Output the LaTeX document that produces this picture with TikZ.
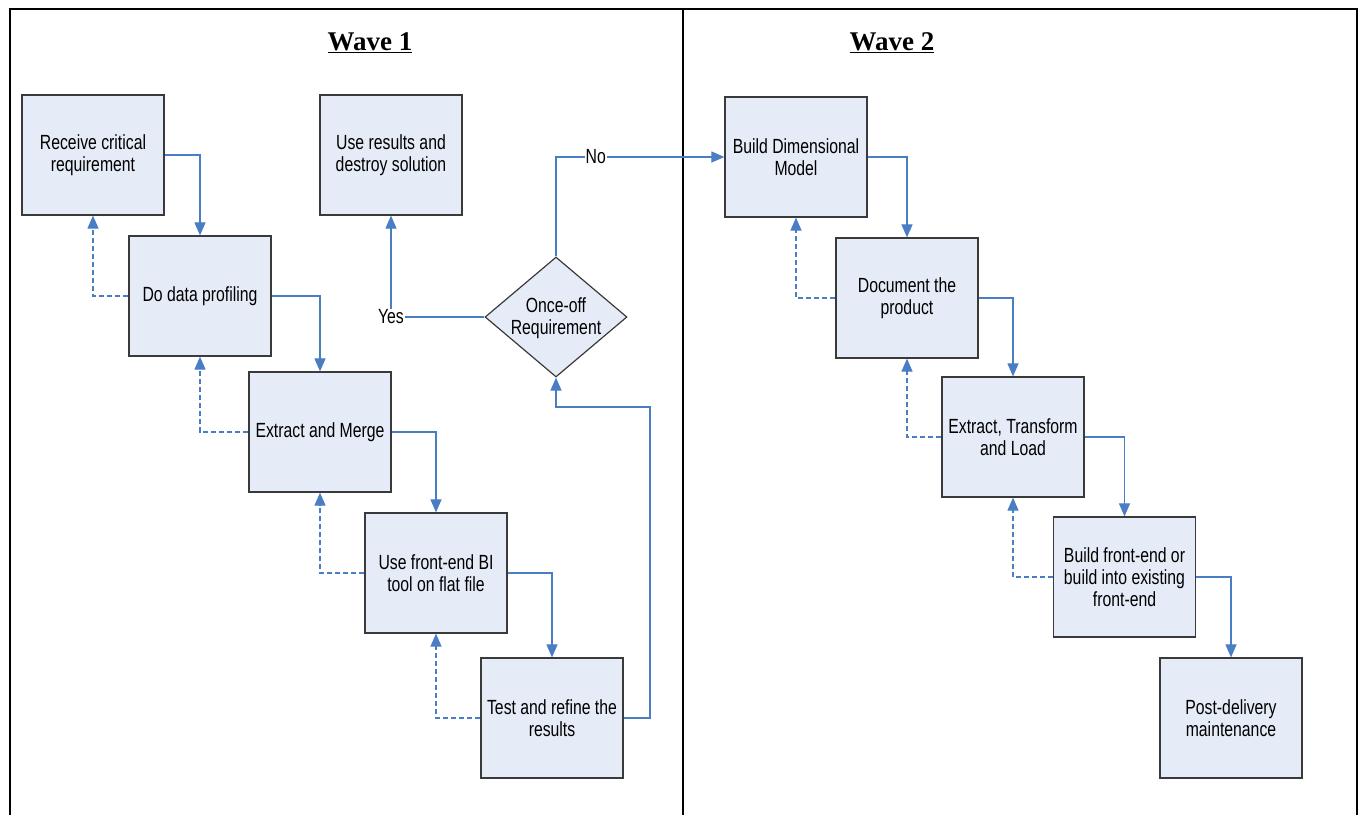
\documentclass[tikz,border=0pt]{standalone}
\usepackage{fontspec}
\usetikzlibrary{arrows.meta,shapes.geometric}
\newfontfamily\boxfont[FakeStretch=0.77]{Liberation Sans}
\newfontfamily\headfont{Liberation Serif}
\definecolor{boxfill}{HTML}{E6ECF7}
\definecolor{boxline}{HTML}{3A3A3A}
\definecolor{flowblue}{HTML}{4A7EC4}
\tikzset{
  stepbox/.style={draw=boxline, line width=1.2pt, fill=boxfill,
    minimum width=142pt, minimum height=120pt, inner sep=0pt,
    align=center, font=\boxfont\fontsize{20.5}{22}\selectfont},
  decision/.style={diamond, draw=boxline, line width=1.2pt, fill=boxfill,
    minimum width=142pt, minimum height=120pt, inner sep=0pt},
  plain/.style={inner sep=0pt, align=center, font=\boxfont\fontsize{20.5}{22}\selectfont},
  lbl/.style={fill=white, inner sep=1pt, font=\boxfont\fontsize{20.5}{22}\selectfont},
  flow/.style={draw=flowblue, line width=1.1pt, -{Triangle[length=13pt,width=11pt]}},
  back/.style={flow, dash pattern=on 5pt off 3pt},
  heading/.style={font=\headfont\bfseries\fontsize{27}{30}\selectfont, inner sep=0pt},
  frame/.style={draw=black, line width=2pt}
}
\begin{document}
\begin{tikzpicture}[x=1pt, y=-1pt]
\useasboundingbox (0,0) rectangle (1362,815);

% outer frame and the divider between the two waves
\draw[frame] (10,815) -- (10,9) -- (1357,9) -- (1357,815);
\draw[frame] (683,9) -- (683,815);

\node[heading] (w1) at (370,43) {\underline{Wave 1}};
\node[heading] (w2) at (892,43) {\underline{Wave 2}};

% Wave 1
\node[stepbox] (rcv) at (93,155) {Receive critical\\requirement};
\node[stepbox] (use) at (391,155) {Use results and\\destroy solution};
\node[stepbox] (prof) at (200,296) {Do data profiling};
\node[stepbox] (merge) at (320,432) {Extract and Merge};
\node[stepbox] (bi) at (436,573) {Use front-end BI\\tool on flat file};
\node[stepbox] (test) at (552,718) {Test and refine the\\results};
\node[decision] (once) at (556,317) {};
\node[plain] (oncetxt) at (556,318) {Once-off\\Requirement};
\coordinate (loop) at (650,407);

\draw[flow] (rcv.east) -| (prof.north);
\draw[flow] (prof.east) -| (merge.north);
\draw[flow] (merge.east) -| (bi.north);
\draw[flow] (bi.east) -| (test.north);
\draw[back] (prof.west) -| (rcv.south);
\draw[back] (merge.west) -| (prof.south);
\draw[back] (bi.west) -| (merge.south);
\draw[back] (test.west) -| (bi.south);
\draw[flow] (test.east) -| (loop) -| (once.south);
\draw[flow] (once.west) -| node[pos=0.5, lbl] {Yes} (use.south);

% Wave 2
\node[stepbox] (dim) at (796,157) {Build Dimensional\\Model};
\node[stepbox] (doc) at (907,298) {Document the\\product};
\node[stepbox] (etl) at (1013,437) {Extract, Transform\\and Load};
\node[stepbox] (fe) at (1124.5,577) {Build front-end or\\build into existing\\front-end};
\node[stepbox] (post) at (1231,718) {Post-delivery\\maintenance};

\draw[flow] (once.north) |- node[pos=0.618, lbl] {No} (dim.west);
\draw[flow] (dim.east) -| (doc.north);
\draw[flow] (doc.east) -| (etl.north);
\draw[flow] (etl.east) -| (fe.north);
\draw[flow] (fe.east) -| (post.north);
\draw[back] (doc.west) -| (dim.south);
\draw[back] (etl.west) -| (doc.south);
\draw[back] (fe.west) -| (etl.south);
\end{tikzpicture}
\end{document}
